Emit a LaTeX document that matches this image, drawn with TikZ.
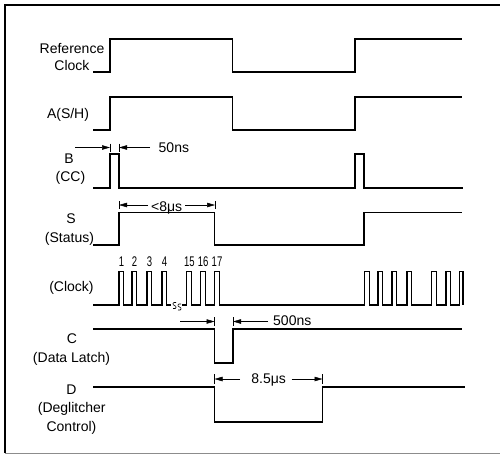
\documentclass[tikz,border=0pt]{standalone}
\usepackage{fontspec}
\usepackage{graphicx}
\setmainfont{Liberation Sans}
\usetikzlibrary{arrows.meta}
\begin{document}
\begin{tikzpicture}[x=1pt,y=-1pt,
  sig/.style={line width=1.1pt, line join=miter},
  dimarrow/.style={line width=0.5pt, -{Triangle[length=8pt,width=4.5pt]}},
  tickmark/.style={line width=0.7pt},
  lbl/.style={font=\fontsize{14}{16}\selectfont, anchor=base, inner sep=0pt},
  lblw/.style={font=\fontsize{14}{16}\selectfont, anchor=base west, inner sep=0pt},
  num/.style={font=\fontsize{14}{16}\selectfont, anchor=base, inner sep=0pt},
]
\useasboundingbox (0,0) rectangle (500,455);
% frame
\draw[line width=1.5pt] (5,453) -- (5,5) -- (500,5);
\draw[line width=1pt, black!45] (5,453) -- (500,453);

% left labels
\node[lbl] (lref1) at (72,53.5) {Reference};
\node[lbl] (lref2) at (72,70.5) {Clock};
\node[lbl] (la) at (68,118) {A(S/H)};
\node[lbl] (lb1) at (69,163) {B};
\node[lbl] (lb2) at (70.5,181.5) {(CC)};
\node[lbl] (ls1) at (71,223.5) {S};
\node[lbl] (ls2) at (69.5,242) {(Status)};
\node[lbl] (lclk) at (71.5,291) {(Clock)};
\node[lbl] (lc1) at (72,343.5) {C};
\node[lbl] (lc2) at (71.5,362.5) {(Data Latch)};
\node[lbl] (ld1) at (71.5,394) {D};
\node[lbl] (ld2) at (71.7,412.5) {(Deglitcher};
\node[lbl] (ld3) at (71.5,431) {Control)};

% Reference clock
\draw[sig] (93,72) -- (110,72) -- (110,39) -- (232.5,39) -- (232.5,72) -- (355,72) -- (355,39) -- (462,39);
% A
\draw[sig] (93,130) -- (110,130) -- (110,97) -- (232.5,97) -- (232.5,130) -- (355,130) -- (355,97) -- (462,97);
% B
\draw[sig] (93,188) -- (110,188) -- (110,154) -- (119,154) -- (119,188) -- (355,188) -- (355,154) -- (364,154) -- (364,188) -- (463,188);
% S
\draw[sig] (93,245) -- (119,245) -- (119,212.5) -- (214.5,212.5) -- (214.5,245) -- (364,245) -- (364,212.5) -- (462,212.5);
% Clock
\draw[sig] (93,305) foreach \r in {119,132,147,162} { -- (\r,305) -- ++(0,-33.5) -- ++(4.8,0) -- ++(0,33.5) } -- (171,305);
\draw[sig] (182,305) foreach \r in {186.5,200.5,214.5,364.5,378,392,407,431.5,446} { -- (\r,305) -- ++(0,-33.5) -- ++(4.8,0) -- ++(0,33.5) } -- (459.5,305) -- (459.5,271.5) -- (463,271.5) -- (463,305);
% break mark
\draw[line width=0.6pt] (176,302.5) .. controls (172.5,301.5) and (172,305) .. (174.5,305.5) .. controls (177,306) and (176.5,309.5) .. (173,308.5);
\draw[line width=0.6pt] (181,304) .. controls (177.5,303) and (177,306.5) .. (179.5,307) .. controls (182,307.5) and (181.5,311) .. (178,310);
% clock numbers
\node[num] (n1) at (121.4,266.5) {\scalebox{0.68}[1]{1}};
\node[num] (n2) at (134.4,266.5) {\scalebox{0.68}[1]{2}};
\node[num] (n3) at (149.4,266.5) {\scalebox{0.68}[1]{3}};
\node[num] (n4) at (164.4,266.5) {\scalebox{0.68}[1]{4}};
\node[num] (n15) at (189.4,266.5) {\scalebox{0.68}[1]{15}};
\node[num] (n16) at (203.2,266.5) {\scalebox{0.68}[1]{16}};
\node[num] (n17) at (217,266.5) {\scalebox{0.68}[1]{17}};
% C
\draw[sig] (93,329) -- (214.5,329) -- (214.5,363) -- (233,363) -- (233,329) -- (462,329);
% D
\draw[sig] (93,387) -- (214.5,387) -- (214.5,422) -- (322.5,422) -- (322.5,387) -- (465,387);

% 50ns
\coordinate (t50a) at (110,147.5);
\coordinate (t50b) at (119,147.5);
\coordinate (s50a) at (75,147.5);
\coordinate (s50b) at (150,147.5);
\draw[tickmark] (110,143.5) -- (110,151.5);
\draw[tickmark] (119,143.5) -- (119,151.5);
\draw[dimarrow] (s50a) -- (t50a);
\draw[dimarrow] (s50b) -- (t50b);
\node[lblw] (l50) at (158.5,152) {50ns};

% <8us
\coordinate (t8a) at (119,205);
\coordinate (t8b) at (215,205);
\coordinate (s8a) at (148,205);
\coordinate (s8b) at (185,205);
\draw[tickmark] (119,201) -- (119,209);
\draw[tickmark] (215,201) -- (215,209);
\draw[dimarrow] (s8a) -- (t8a);
\draw[dimarrow] (s8b) -- (t8b);
\node[lbl] (l8) at (166.7,211) {<8μs};

% 500ns
\coordinate (t500a) at (214.5,321.5);
\coordinate (t500b) at (233,321.5);
\coordinate (s500a) at (180,321.5);
\coordinate (s500b) at (268,321.5);
\draw[tickmark] (214.5,317) -- (214.5,326);
\draw[tickmark] (233,317) -- (233,326);
\draw[dimarrow] (s500a) -- (t500a);
\draw[dimarrow] (s500b) -- (t500b);
\node[lblw] (l500) at (273,325.5) {500ns};

% 8.5us
\coordinate (t85a) at (214.5,379);
\coordinate (t85b) at (322.5,379);
\coordinate (s85a) at (240,379);
\coordinate (s85b) at (291.5,379);
\draw[tickmark] (214.5,374) -- (214.5,383.5);
\draw[tickmark] (322.5,374) -- (322.5,383.5);
\draw[dimarrow] (s85a) -- (t85a);
\draw[dimarrow] (s85b) -- (t85b);
\node[lbl] (l85) at (268.7,383.5) {8.5μs};
\end{tikzpicture}
\end{document}
